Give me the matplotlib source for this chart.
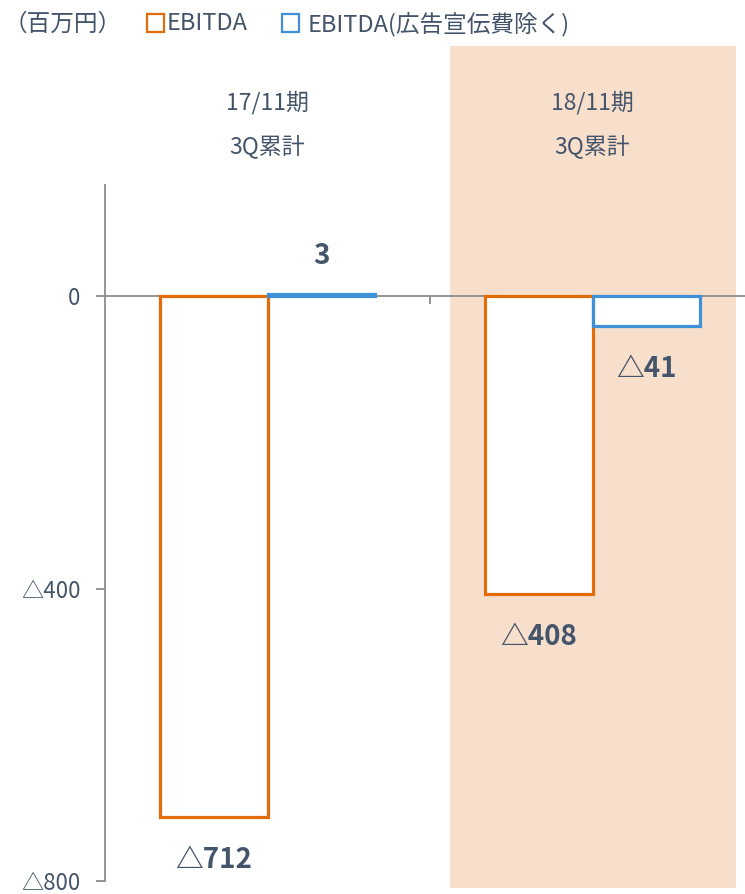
import matplotlib
matplotlib.use("Agg")
import matplotlib.pyplot as plt
from matplotlib.patches import Rectangle
from matplotlib.transforms import blended_transform_factory
import numpy as np

plt.rcParams['font.family'] = ['Noto Sans CJK JP', 'DejaVu Sans']

# data
categories = ["17/11期\n3Q累計", "18/11期\n3Q累計"]
ebitda = [-712, -408]
ebitda_ex_ad = [3, -41]
series_names = ["EBITDA", "EBITDA(広告宣伝費除く)"]
yticks = [0, -400, -800]
ytick_labels = ["0", "△400", "△800"]

text_col = "#44546A"
axis_col = "#8C8C8C"
orange = "#E36C0A"
blue = "#3F8FD9"
shade = "#F7DFCC"

def fmt(v):
    return "△{}".format(abs(v)) if v < 0 else "{}".format(v)

fig = plt.figure(figsize=(7.45, 8.94), dpi=100)
W, H = 745, 894
ax = fig.add_axes([105 / W, 13 / H, 650 / W, 696 / H])

x = np.arange(len(categories))
bw = 0.332

# highlighted period
ax.axvspan(x[1] - 0.44, x[1] + 0.44, ymin=-0.01, ymax=1.2, color=shade,
           zorder=0, clip_on=False, lw=0)

b1 = ax.bar(x - bw / 2, ebitda, bw, facecolor="white", edgecolor=orange,
            linewidth=2.3, zorder=3)
b2 = ax.bar(x + bw / 2, ebitda_ex_ad, bw, facecolor="white", edgecolor=blue,
            linewidth=2.3, zorder=3)

for bars, vals in [(b1, ebitda), (b2, ebitda_ex_ad)]:
    for rect, v in zip(bars, vals):
        cx = rect.get_x() + rect.get_width() / 2
        off = -31 if v < 0 else 27
        ax.annotate(fmt(v), xy=(cx, v), xytext=(0, off), textcoords="offset points",
                    ha="center", va="center", fontsize=20, fontweight="bold",
                    color=text_col, zorder=5)

ax.set_xlim(-0.5, 1.5)
ax.set_ylim(-800, 152)

ax.spines['top'].set_visible(False)
ax.spines['right'].set_visible(False)
ax.spines['bottom'].set_position(('data', 0))
ax.spines['bottom'].set_color(axis_col)
ax.spines['left'].set_color(axis_col)
ax.spines['bottom'].set_linewidth(1.3)
ax.spines['left'].set_linewidth(1.3)
ax.spines['bottom'].set_zorder(2)

ax.set_yticks(yticks)
ax.set_yticklabels(ytick_labels)
ax.tick_params(axis='y', direction='out', length=6.5, width=1.3, color=axis_col,
               labelsize=16, labelcolor=text_col, pad=11)
ax.set_xticks([0.5])
ax.set_xticklabels([""])
ax.tick_params(axis='x', direction='out', length=6, width=1.3, color=axis_col)
ax.patch.set_alpha(0)

# category labels above plot
trans = blended_transform_factory(ax.transData, ax.transAxes)
for xi, c in zip(x, categories):
    top, bottom = c.split("\n")
    ax.text(xi, (881 - 103) / 696, top, transform=trans, ha="center", va="center",
            fontsize=16.5, color=text_col)
    ax.text(xi, (881 - 146) / 696, bottom, transform=trans, ha="center", va="center",
            fontsize=16.5, color=text_col)

# legend row
ly = 1 - 24 / H
fig.text(4 / W, ly, "（百万円）", ha="left", va="center", fontsize=17, color=text_col)
for sx, col, tx, name in [(147, orange, 167, series_names[0]),
                          (282, blue, 308, series_names[1])]:
    fig.add_artist(Rectangle((sx / W, 1 - 32 / H), 17 / W, 18 / H,
                             transform=fig.transFigure, facecolor="white",
                             edgecolor=col, linewidth=1.6))
    fig.text(tx / W, ly, name, ha="left", va="center", fontsize=17, color=text_col)

fig.savefig("out.png", dpi=100)
